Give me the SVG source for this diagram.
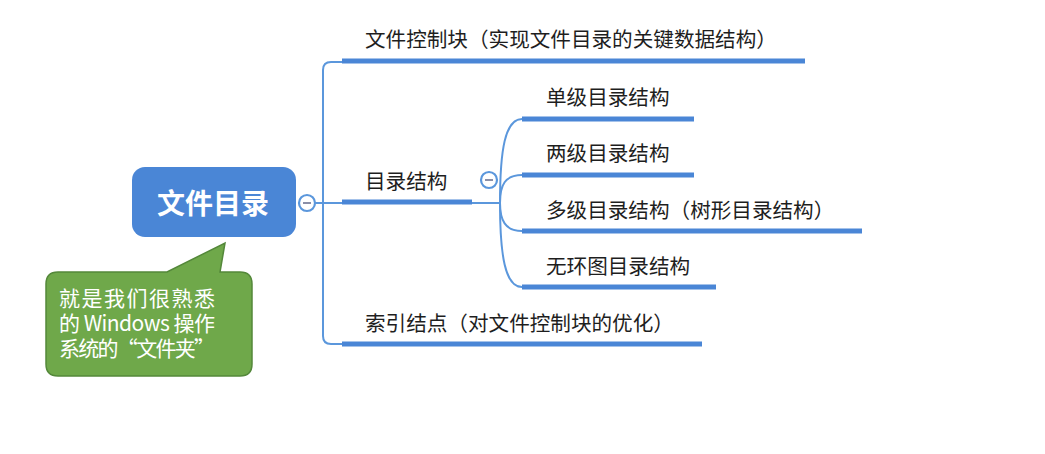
<svg xmlns="http://www.w3.org/2000/svg" width="1045" height="454" viewBox="0 0 1045 454">
<style>
.lbl{font-family:"Noto Sans CJK SC","Noto Sans",sans-serif;font-size:20.6px;fill:#1e1e1e}
.bar{stroke:#4a86d6;stroke-width:5;fill:none;stroke-linecap:butt}
.ln{stroke:#5b97dc;stroke-width:2;fill:none}
.tog{fill:#fff;stroke:#5b97dc;stroke-width:2.2}
.minus{stroke:#8a8fa8;stroke-width:2}
</style>
<rect width="1045" height="454" fill="#fff"/>
<g id="connectors">
<path class="ln" d="M342 62 H331 Q323 62 323 70 V336 Q323 344 331 344 H342"/>
<path class="ln" d="M315 203 H342"/>
<path class="ln" d="M472 203 H500"/>
<path class="ln" d="M500 203 C500 150 505 119 522 119"/>
<path class="ln" d="M500 203 C500 185 505 175 522 175"/>
<path class="ln" d="M500 203 C500 220 505 231 522 231"/>
<path class="ln" d="M500 203 C500 255 505 287 522 287"/>
</g>
<g id="root">
<rect x="132" y="167" width="164" height="70" rx="13" fill="#4a86d6"/>
<text x="213" y="214" text-anchor="middle" style="font-family:'Noto Sans CJK SC',sans-serif;font-size:28px;font-weight:bold;fill:#fff">文件目录</text>
<circle class="tog" cx="307" cy="203" r="8"/>
<line class="minus" x1="303" y1="203" x2="311" y2="203"/>
</g>
<g id="n-fcb">
<line class="bar" x1="342" y1="61" x2="805" y2="61"/>
<text class="lbl" x="365" y="47">文件控制块（实现文件目录的关键数据结构）</text>
</g>
<g id="n-dir">
<line class="bar" x1="342" y1="202" x2="472" y2="202"/>
<text class="lbl" x="365" y="189">目录结构</text>
<circle class="tog" cx="489" cy="180" r="8"/>
<line class="minus" x1="485" y1="180" x2="493" y2="180"/>
</g>
<g id="n-single">
<line class="bar" x1="522" y1="119" x2="694" y2="119"/>
<text class="lbl" x="546" y="105">单级目录结构</text>
</g>
<g id="n-two">
<line class="bar" x1="522" y1="175" x2="694" y2="175"/>
<text class="lbl" x="546" y="161">两级目录结构</text>
</g>
<g id="n-multi">
<line class="bar" x1="522" y1="231" x2="862" y2="231"/>
<text class="lbl" x="546" y="218">多级目录结构（树形目录结构）</text>
</g>
<g id="n-acyclic">
<line class="bar" x1="522" y1="287" x2="716" y2="287"/>
<text class="lbl" x="546" y="274">无环图目录结构</text>
</g>
<g id="n-inode">
<line class="bar" x1="342" y1="344" x2="702" y2="344"/>
<text class="lbl" x="365" y="331">索引结点（对文件控制块的优化）</text>
</g>
<g id="callout">
<path d="M58 272 H167 L225 243 L220 272 H240 Q252 272 252 284 V364 Q252 376 240 376 H58 Q46 376 46 364 V284 Q46 272 58 272 Z" fill="#6fa84a" stroke="#54883a" stroke-width="1.5"/>
<g style="font-family:'Noto Sans CJK SC',sans-serif;font-size:21px;fill:#fff">
<text x="59" y="306" textLength="156" lengthAdjust="spacing">就是我们很熟悉</text>
<text x="59" y="331" textLength="156" lengthAdjust="spacing">的 Windows 操作</text>
<text x="59" y="356" textLength="156" lengthAdjust="spacing">系统的“文件夹”</text>
</g>
</g>
</svg>
